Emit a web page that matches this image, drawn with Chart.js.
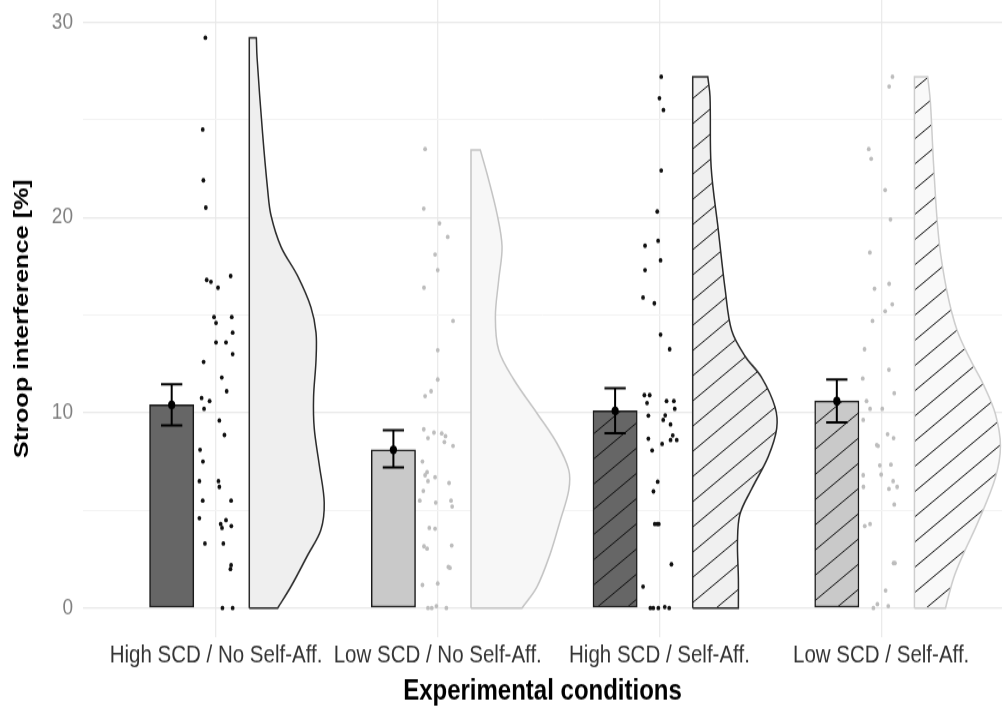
<!DOCTYPE html>
<html>
<head>
<meta charset="utf-8">
<script src="https://cdn.jsdelivr.net/npm/chart.js@4.4.1/dist/chart.umd.min.js"></script>
<style>
  html, body { margin: 0; padding: 0; background: #fff; }
  body { width: 1002px; height: 708px; }
  /* the reference figure is stretched vertically, so the canvas is too */
  #wrap { width: 1002px; height: 590px; transform: scaleY(1.2); transform-origin: 0 0; }
</style>
</head>
<body>
<div id="wrap"><canvas id="chart" width="1002" height="590"></canvas></div>
<script>
const categories = ["High SCD / No Self-Aff.", "Low SCD / No Self-Aff.", "High SCD / Self-Aff.", "Low SCD / Self-Aff."];
const yTicks = [0, 5, 10, 15, 20, 25, 30];

// bar = mean, whiskers = CI
const barMeans = [10.4, 8.1, 10.1, 10.6];
const ciLow = [9.35, 7.2, 8.95, 9.5];
const ciHigh = [11.45, 9.1, 11.25, 11.7];

// raw observations and their horizontal jitter (category units)
const highNoVals = [29.2, 24.5, 21.9, 20.5, 17.0, 16.8, 16.7, 16.4, 14.9, 14.9, 14.6, 14.1, 13.6, 13.6, 13.0, 12.6, 11.8, 11.1, 10.75, 10.6, 10.2, 9.6, 8.86, 8.1, 7.5, 6.5, 6.5, 6.2, 5.5, 5.5, 4.6, 4.5, 4.3, 4.1, 4.2, 3.3, 3.3, 2.2, 2.0, 0, 0];
const highNoJitter = [-0.048, -0.06, -0.057, -0.046, 0.066, -0.042, -0.023, 0.009, -0.009, 0.071, 0, 0.075, 0, 0.045, 0.075, -0.056, 0.026, 0.048, -0.065, -0.029, -0.054, 0.015, 0.038, -0.072, -0.059, -0.075, 0.011, 0.015, -0.06, 0.068, -0.075, 0.045, 0.021, 0.027, 0.069, -0.05, 0.033, 0.068, 0.065, 0.029, 0.075];

const lowNoVals = [23.5, 20.45, 19.7, 19.0, 18.1, 17.3, 16.4, 14.7, 13.2, 11.7, 11.1, 10.85, 9.15, 8.98, 8.94, 8.8, 8.7, 8.5, 8.3, 7.5, 6.96, 6.8, 6.7, 6.5, 6.4, 6.0, 5.5, 5.5, 5.4, 5.2, 4.1, 4.06, 3.2, 3.16, 3.04, 2.1, 2.06, 1.26, 1.18, 0.1, 0, 0, 0];
const lowNoJitter = [-0.057, -0.063, 0.008, 0.045, -0.012, 0, -0.062, 0.069, 0, 0, -0.03, -0.057, -0.063, -0.017, 0.018, 0.035, -0.044, 0.03, 0.069, -0.069, -0.048, -0.057, -0.012, -0.044, 0.051, -0.065, -0.081, 0.06, -0.009, 0.065, -0.038, -0.012, 0.063, -0.062, -0.048, 0.048, 0.055, 0, -0.069, -0.006, -0.044, -0.027, 0.039];

const highSelfVals = [27.2, 26.1, 25.5, 22.4, 20.3, 18.8, 18.55, 17.8, 17.3, 15.9, 15.6, 14.0, 13.25, 10.9, 10.9, 10.6, 10.6, 10.5, 10.2, 9.87, 9.85, 9.63, 9.4, 8.84, 8.67, 8.6, 8.6, 8.4, 8.07, 6.47, 5.97, 4.3, 4.3, 4.3, 2.24, 1.1, 0.05, 0, 0, 0, 0];
const highSelfJitter = [0.008, 0, 0.018, 0.008, -0.01, -0.006, -0.065, 0.005, -0.065, -0.074, -0.023, 0.005, 0.046, -0.068, -0.044, 0.032, 0.065, -0.056, 0.069, 0.026, -0.05, 0.017, 0.05, 0.06, -0.05, 0.05, 0.078, 0.012, -0.033, -0.008, -0.027, -0.021, -0.01, -0.003, 0.054, -0.074, 0.024, -0.041, -0.028, -0.005, 0.044];

const lowSelfVals = [27.2, 26.7, 23.5, 23.0, 21.4, 19.9, 18.2, 16.6, 16.35, 15.55, 15.2, 14.7, 13.25, 12.2, 11.75, 11.0, 10.6, 10.2, 10.2, 9.63, 8.9, 8.7, 8.35, 8.3, 7.34, 7.3, 6.83, 6.8, 6.5, 6.2, 6.2, 6.1, 5.3, 4.3, 4.2, 2.3, 2.3, 0.9, 0.2, 0.1, 0];
const lowSelfJitter = [0.051, 0.036, -0.056, -0.045, 0.018, 0.042, -0.051, 0.036, -0.03, 0.05, 0.018, -0.039, -0.075, 0.035, -0.083, 0.059, -0.066, -0.05, 0.005, -0.081, 0.029, 0.056, -0.02, -0.014, 0.044, -0.006, 0, -0.081, 0.054, 0.072, -0.08, 0.035, 0.059, -0.05, -0.074, 0.056, 0.062, 0.02, -0.017, 0.032, -0.035];

// half violins: density outline, y value and half width (category units)
const highNoDensY = [0, 1.1, 2.7, 4.0, 5.4, 7.3, 9.2, 10.8, 12.7, 14.1, 15.4, 17.0, 18.5, 20.1, 21.4, 24.3, 28.2, 29.2];
const highNoDensW = [0.128, 0.188, 0.263, 0.323, 0.338, 0.316, 0.293, 0.29, 0.301, 0.301, 0.278, 0.218, 0.143, 0.098, 0.083, 0.06, 0.035, 0.032];
const lowNoDensY = [0, 1.1, 2.8, 4.5, 6.04, 7.07, 8.43, 9.97, 11.7, 13.2, 14.9, 16.8, 18.5, 20.2, 22.25, 23.45];
const lowNoDensW = [0.23, 0.298, 0.358, 0.403, 0.441, 0.441, 0.388, 0.298, 0.193, 0.125, 0.11, 0.125, 0.14, 0.117, 0.072, 0.042];
const highSelfDensY = [0, 1.54, 3.4, 4.8, 6.1, 7.76, 9.2, 10.3, 11.8, 12.9, 14.2, 16.35, 19.3, 22.6, 26.2, 27.2];
const highSelfDensW = [0.206, 0.206, 0.202, 0.213, 0.266, 0.341, 0.379, 0.371, 0.311, 0.236, 0.176, 0.146, 0.116, 0.083, 0.078, 0.068];
const lowSelfDensY = [0, 1.54, 2.8, 4.3, 6.66, 8.3, 9.95, 11.4, 12.7, 14.2, 16.2, 18.9, 22.6, 25.9, 27.2];
const lowSelfDensW = [0.14, 0.177, 0.222, 0.283, 0.365, 0.388, 0.365, 0.313, 0.253, 0.193, 0.147, 0.11, 0.087, 0.072, 0.06];

const BAR_OFFSET = -0.2;
const CAP_HALF = 0.048;
const VIOLIN_OFFSET = 0.15;
const FONT = "'Liberation Sans', Arial, Helvetica, sans-serif";

// diagonal hatch fill
function hatch(bg) {
  const c = document.createElement("canvas");
  const w = 30, h = 21;
  c.width = w; c.height = h;
  const g = c.getContext("2d");
  g.fillStyle = bg;
  g.fillRect(0, 0, w, h);
  g.strokeStyle = "#111";
  g.lineWidth = 1;
  for (let k = -1; k <= 1; k++) {
    g.beginPath();
    g.moveTo(-w, 2 * h + k * h);
    g.lineTo(2 * w, -h + k * h);
    g.stroke();
  }
  return g.createPattern(c, "repeat");
}

const obsVals = [highNoVals, lowNoVals, highSelfVals, lowSelfVals];
const obsJitter = [highNoJitter, lowNoJitter, highSelfJitter, lowSelfJitter];
const densY = [highNoDensY, lowNoDensY, highSelfDensY, lowSelfDensY];
const densW = [highNoDensW, lowNoDensW, highSelfDensW, lowSelfDensW];

const barFills = ["#666666", "#c9c9c9", hatch("#666666"), hatch("#c9c9c9")];
const pointColors = ["#111111", "#bdbdbd", "#111111", "#bdbdbd"];
const violinFills = ["#efefef", "#f7f7f7", hatch("#f0f0f0"), hatch("#f9f9f9")];
const violinLines = ["#2b2b2b", "#c4c4c4", "#2b2b2b", "#cdcdcd"];

function violinOutline(i) {
  const left = i + 1 + VIOLIN_OFFSET;
  const ys = densY[i], ws = densW[i];
  const last = ys.length - 1;
  const pts = [{ x: left, y: 0 }, { x: left + ws[0], y: 0 }];
  ys.forEach((y, k) => pts.push({ x: left + ws[k], y: y }));
  pts.push({ x: left + ws[last], y: ys[last] });
  pts.push({ x: left, y: ys[last] }, { x: left, y: ys[last] });
  pts.push({ x: left, y: 0 });
  return pts;
}

const errPts = [];
barMeans.forEach((m, i) => {
  const x = i + 1 + BAR_OFFSET;
  errPts.push({ x: x - CAP_HALF, y: ciHigh[i] }, { x: x + CAP_HALF, y: ciHigh[i] }, { x: x, y: null });
  errPts.push({ x: x, y: ciHigh[i] }, { x: x, y: ciLow[i] }, { x: x, y: null });
  errPts.push({ x: x - CAP_HALF, y: ciLow[i] }, { x: x + CAP_HALF, y: ciLow[i] }, { x: x, y: null });
});

const datasets = [
  {
    type: "scatter",
    label: "Mean",
    data: barMeans.map((m, i) => ({ x: i + 1 + BAR_OFFSET, y: m })),
    pointRadius: 3.6,
    pointBackgroundColor: "#000",
    pointBorderWidth: 0,
    order: 0
  },
  {
    type: "line",
    label: "CI",
    data: errPts,
    borderColor: "#000",
    borderWidth: 2,
    pointRadius: 0,
    spanGaps: false,
    tension: 0,
    fill: false,
    order: 1
  },
  {
    type: "bar",
    label: "Bars",
    data: barMeans.map((m, i) => ({ x: i + 1 + BAR_OFFSET, y: m })),
    backgroundColor: barFills,
    borderColor: "#1a1a1a",
    borderWidth: 1.5,
    borderSkipped: false,
    barThickness: 44.3,
    order: 2
  }
];

categories.forEach((c, i) => {
  datasets.push({
    type: "scatter",
    label: c,
    data: obsVals[i].map((v, k) => ({ x: i + 1 + obsJitter[i][k], y: v })),
    pointRadius: 1.9,
    pointBackgroundColor: pointColors[i],
    pointBorderWidth: 0,
    order: 3
  });
});

categories.forEach((c, i) => {
  datasets.push({
    type: "line",
    label: c + " density",
    data: violinOutline(i),
    backgroundColor: violinFills[i],
    borderColor: violinLines[i],
    borderWidth: 1.5,
    pointRadius: 0,
    tension: 0.35,
    fill: "shape",
    order: 4
  });
});

new Chart(document.getElementById("chart"), {
  type: "line",
  data: { datasets },
  options: {
    responsive: false,
    animation: false,
    events: [],
    devicePixelRatio: 1,
    layout: { padding: 0, autoPadding: false },
    plugins: { legend: { display: false }, tooltip: { enabled: false } },
    scales: {
      x: {
        type: "linear",
        min: 0.4,
        max: 4.545,
        offset: false,
        afterBuildTicks: (scale) => { scale.ticks = categories.map((c, i) => ({ value: i + 1 })); },
        afterFit: (scale) => {
          scale.height = 58.9;
          scale.paddingLeft = 0;
          scale.paddingRight = 0;
        },
        border: { display: false },
        grid: { color: "#ebebeb", lineWidth: 1.3, drawTicks: false, offset: false },
        ticks: {
          autoSkip: false,
          maxRotation: 0,
          minRotation: 0,
          padding: 3,
          color: "#333333",
          font: { family: FONT, size: 20.5 },
          callback: (v) => categories[v - 1]
        },
        title: {
          display: true,
          text: "Experimental conditions",
          color: "#000",
          font: { family: FONT, size: 24, weight: "bold", lineHeight: 1 },
          padding: { top: 0, bottom: 1.3 }
        }
      },
      y: {
        type: "linear",
        min: -1.5,
        max: 31.13,
        afterBuildTicks: (scale) => { scale.ticks = yTicks.map((v) => ({ value: v })); },
        afterFit: (scale) => {
          scale.width = 83;
          scale.paddingTop = 0;
          scale.paddingBottom = 0;
        },
        border: { display: false },
        grid: {
          drawTicks: false,
          color: (ctx) => (ctx.tick && ctx.tick.value % 10 === 0 ? "#e8e8e8" : "#f3f3f3"),
          lineWidth: (ctx) => (ctx.tick && ctx.tick.value % 10 === 0 ? 1.3 : 1)
        },
        ticks: {
          padding: 10,
          color: "#7f7f7f",
          font: { family: FONT, size: 19 },
          callback: (v) => (v % 10 === 0 ? String(v) : "")
        },
        title: {
          display: true,
          text: "Stroop interference [%]",
          color: "#000",
          font: { family: FONT, size: 21, weight: "bold" },
          padding: { top: 10, bottom: 0 }
        }
      }
    }
  }
});
</script>
</body>
</html>
